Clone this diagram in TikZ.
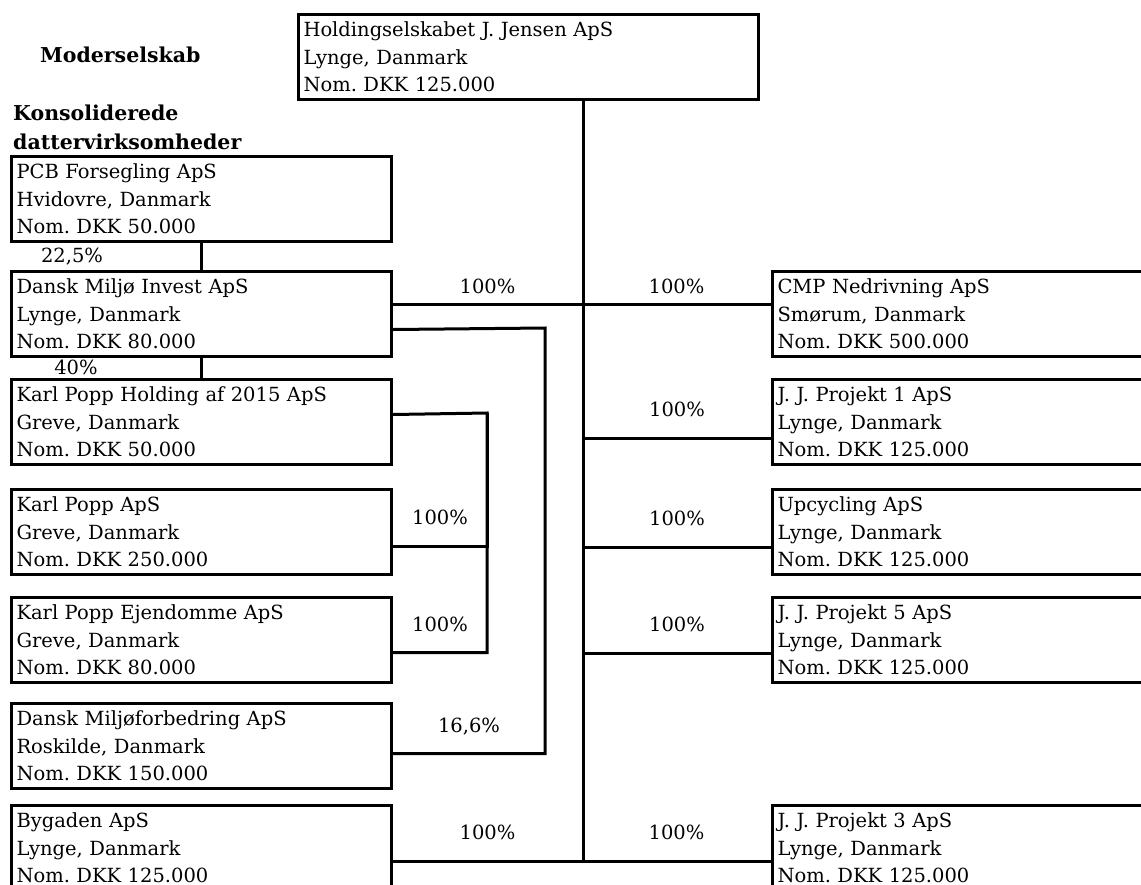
\documentclass[tikz,border=0pt]{standalone}
\usepackage{fontspec}
\setmainfont{DejaVu Serif}
\usetikzlibrary{positioning, calc}

\newcommand{\boxsize}{\fontsize{19.5}{27.5}\selectfont}
\newcommand{\headsize}{\fontsize{20.5}{28.5}\selectfont}
\frenchspacing

\begin{document}
\begin{tikzpicture}[x=1pt, y=-1pt,
    company/.style={rectangle, draw, line width=3pt, anchor=north west, minimum height=85pt, text width=370pt, inner xsep=5pt, inner ysep=0pt, align=left, font=\boxsize},
    heading/.style={inner sep=0pt, align=left, font=\headsize\bfseries},
    pct/.style={font=\boxsize, inner sep=2pt, above=18pt},
    link/.style={line width=3pt}
]
\useasboundingbox (0,0) rectangle (1141,884);
\clip (0,0) rectangle (1141,884);

\node[heading, anchor=base west] (moder) at (40,62) {Moderselskab};
\node[heading, anchor=north west] (konsol) at (13,105) {Konsoliderede\\dattervirksomheder};

\node[company, text width=450pt] (holding) at (297,13) {Holdingselskabet J. Jensen ApS\\Lynge, Danmark\\Nom. DKK 125.000};

% left column
\node[company] (pcb) at (10,155) {PCB Forsegling ApS\\Hvidovre, Danmark\\Nom. DKK 50.000};
\node[company] (dmi) at (10,270) {Dansk Miljø Invest ApS\\Lynge, Danmark\\Nom. DKK 80.000};
\node[company] (kph) at (10,378) {Karl Popp Holding af 2015 ApS\\Greve, Danmark\\Nom. DKK 50.000};
\node[company] (kpa) at (10,488) {Karl Popp ApS\\Greve, Danmark\\Nom. DKK 250.000};
\node[company] (kpe) at (10,596) {Karl Popp Ejendomme ApS\\Greve, Danmark\\Nom. DKK 80.000};
\node[company] (dmf) at (10,702) {Dansk Miljøforbedring ApS\\Roskilde, Danmark\\Nom. DKK 150.000};
\node[company] (byg) at (10,804) {Bygaden ApS\\Lynge, Danmark\\Nom. DKK 125.000};

% right column
\node[company, text width=390pt] (cmp) at (771,270) {CMP Nedrivning ApS\\Smørum, Danmark\\Nom. DKK 500.000};
\node[company, text width=390pt] (jj1) at (771,378) {J. J. Projekt 1 ApS\\Lynge, Danmark\\Nom. DKK 125.000};
\node[company, text width=390pt] (upc) at (771,488) {Upcycling ApS\\Lynge, Danmark\\Nom. DKK 125.000};
\node[company, text width=390pt] (jj5) at (771,596) {J. J. Projekt 5 ApS\\Lynge, Danmark\\Nom. DKK 125.000};
\node[company, text width=390pt] (jj3) at (771,804) {J. J. Projekt 3 ApS\\Lynge, Danmark\\Nom. DKK 125.000};

\node[font=\boxsize] (p225) at (72,257) {22,5\%};
\node[font=\boxsize] (p40) at (76,367) {40\%};

\coordinate (trunk) at (583,860);
\coordinate (kpbus) at (487,413);
\coordinate (dmfbus) at (545,328);

\draw[link] (holding.south -| trunk) -- (trunk);
\draw[link] (pcb.south) -- (pcb.south |- dmi.north);
\draw[link] (dmi.south) -- (dmi.south |- kph.north);
\draw[link] ($(dmi.east)+(0,-9.5)$) -- node[pct, pos=.25, above=7pt] {100\%} node[pct, pos=.75, above=7pt] {100\%} ($(cmp.west)+(0,-9.5)$);
\draw[link] ($(dmi.east)+(0,15.5)$) -- (dmfbus) |- node[pct, pos=.75, above=15pt] {16,6\%} ($(dmf.east)+(0,7.5)$);
\draw[link] ($(kph.east)+(0,-7.5)$) -- (kpbus) |- node[pct, pos=.75, above=17pt] {100\%} ($(kpe.east)+(0,12.5)$);
\draw[link] ($(kpa.east)+(0,14.5)$) -| node[pct, pos=.25] {100\%} (kpbus);

\draw[link] ($(jj1.west)+(0,16.5)$) -| node[pct, pos=.25] {100\%} (trunk);
\draw[link] ($(upc.west)+(0,15.5)$) -| node[pct, pos=.25] {100\%} (trunk);
\draw[link] ($(jj5.west)+(0,13.5)$) -| node[pct, pos=.25] {100\%} (trunk);
\draw[link] ($(byg.east)+(0,13.5)$) -- node[pct, pos=.25] {100\%} node[pct, pos=.75] {100\%} ($(jj3.west)+(0,13.5)$);
\end{tikzpicture}
\end{document}
